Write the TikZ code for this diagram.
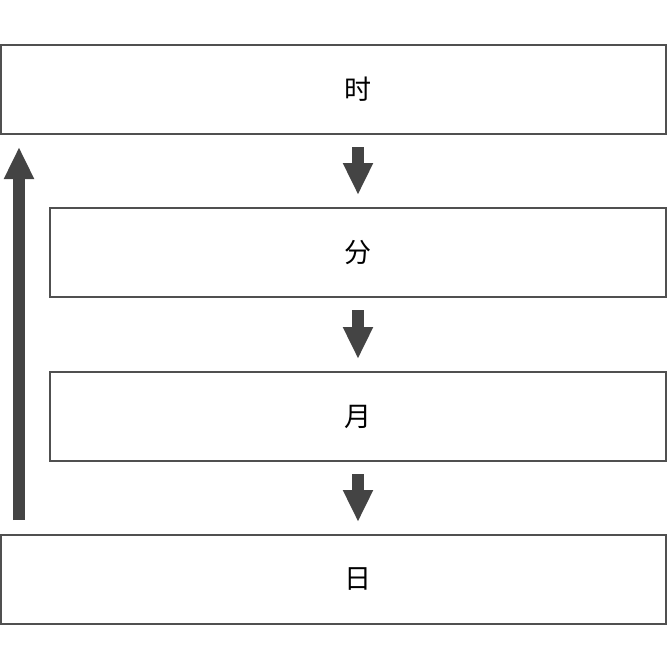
\documentclass[tikz,border=0pt]{standalone}
\usepackage{fontspec}
\newfontfamily\cjk{Noto Sans CJK SC}
\usepackage{tikz}
\usetikzlibrary{arrows.meta,positioning,calc}
\definecolor{edge}{HTML}{505050}
\definecolor{flowgray}{HTML}{444444}

\begin{document}
\begin{tikzpicture}[x=1pt,y=-1pt,
    box/.style={draw=edge, line width=2pt, fill=white, minimum height=89pt, inner sep=0pt},
    lbl/.style={font=\cjk\fontsize{27}{27}\selectfont, inner sep=0pt},
    flow/.style={draw=flowgray, line width=12pt,
        -{Triangle[width=28pt,length=32pt]}, shorten <=12pt, shorten >=12pt}]
    \useasboundingbox (0,0) rectangle (668,672);

    % column positions
    \coordinate (mid) at (358,0);
    \coordinate (up) at (19,0);

    % boxes
    \node[box, minimum width=665pt] (hour) at (333.5,89.5) {};
    \node[box, minimum width=616pt] (minute) at (358,252.5) {};
    \node[box, minimum width=616pt] (month) at (358,416.5) {};
    \node[box, minimum width=665pt] (day) at (333.5,579.5) {};

    % labels
    \node[lbl] (hourtxt) at (hour.center -| mid) {时};
    \node[lbl] (minutetxt) at (minute.center -| mid) {分};
    \node[lbl] (monthtxt) at (month.center -| mid) {月};
    \node[lbl] (daytxt) at (day.center -| mid) {日};

    % down arrows
    \draw[flow] (hour.south -| mid) -- (minute.north -| mid);
    \draw[flow] (minute.south -| mid) -- (month.north -| mid);
    \draw[flow] (month.south -| mid) -- (day.north -| mid);

    % back up
    \draw[flow, shorten <=14pt] (day.north -| up) -- (hour.south -| up);
\end{tikzpicture}
\end{document}
